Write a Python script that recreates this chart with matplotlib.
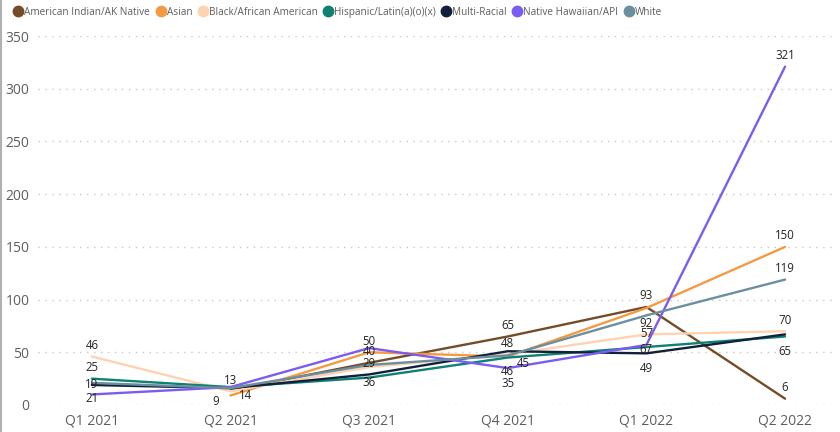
import numpy as np
import matplotlib.pyplot as plt
from matplotlib.lines import Line2D

plt.rcParams['font.family'] = ['Open Sans', 'DejaVu Sans']

quarters = ['Q1 2021', 'Q2 2021', 'Q3 2021', 'Q4 2021', 'Q1 2022', 'Q2 2022']

groups = ['American Indian/AK Native', 'Asian', 'Black/African American',
          'Hispanic/Latin(a)(o)(x)', 'Multi-Racial', 'Native Hawaiian/API',
          'White']

american_indian = [np.nan, 14, 40, 65, 93, 6]
asian = [np.nan, 9, 50, 46, 92, 150]
black = [46, 13, 36, 48, 67, 70]
hispanic = [25, 17, 26, 45, 55, 65]
multi_racial = [19, 16, 29, 51, 49, 67]
hawaiian = [10, 17, 54, 35, 57, 321]
white = [21, 16, 38, 47, 85, 119]

series = [american_indian, asian, black, hispanic, multi_racial, hawaiian,
          white]

colors = ['#744C28', '#F49A43', '#FDD3B1', '#0F8173', '#11213B', '#7B5CF0',
          '#6B8F9F']

# which points carry a data label and where the label sits
labels = {
    0: [(1, 'right'), (2, 'above'), (3, 'above'), (4, 'above'), (5, 'above')],
    1: [(1, 'left'), (2, 'above'), (3, 'below'), (4, 'below'), (5, 'above')],
    2: [(0, 'above'), (1, 'above'), (2, 'below'), (3, 'above'), (4, 'below'),
        (5, 'above')],
    3: [(0, 'above'), (3, 'right'), (5, 'below')],
    4: [(0, 'center'), (2, 'above'), (4, 'below')],
    5: [(3, 'below'), (4, 'above'), (5, 'above')],
    6: [(0, 'below'), (5, 'above')],
}

offsets = {'above': (0, 8), 'below': (0, -11), 'right': (11, -4),
           'left': (-11, -4), 'center': (0, 0)}

fig = plt.figure(figsize=(8.4, 4.32), dpi=100)
ax = fig.add_axes([0.045, 0.0625, 0.949, 0.854])

x = np.arange(len(quarters))
for vals, color in zip(series, colors):
    ax.plot(x, vals, color=color, linewidth=1.7, solid_capstyle='round')

for i, pts in labels.items():
    for q, pos in pts:
        ax.annotate(str(series[i][q]), (x[q], series[i][q]),
                    xytext=offsets[pos], textcoords='offset points',
                    ha='center', va='center', fontsize=8.3, color='#252423')

ax.set_xlim(-0.39, 5.36)
ax.set_ylim(0, 350)
ax.set_yticks(range(0, 351, 50))
ax.set_xticks(x)
ax.set_xticklabels(quarters)
ax.tick_params(axis='both', length=0, labelsize=10, colors='#605E5C', pad=6)
ax.grid(axis='y', color='#C8C8C8', linestyle=(0, (1, 4)), linewidth=1)
ax.set_axisbelow(True)
for side in ax.spines.values():
    side.set_visible(False)

handles = [Line2D([], [], marker='o', linestyle='none', markersize=7.5,
                  markerfacecolor=c, markeredgecolor=c) for c in colors]
fig.legend(handles, groups, loc='upper left', bbox_to_anchor=(0.004, 1.005),
           ncol=7, frameon=False, fontsize=7.2, handletextpad=0.0,
           columnspacing=0.45, handlelength=1.2, labelcolor='#605E5C')

fig.add_artist(Line2D([0.001, 0.001], [0, 1], color='#B0B0B0',
                      linewidth=1.5, transform=fig.transFigure))

fig.savefig('out.png', dpi=100)
